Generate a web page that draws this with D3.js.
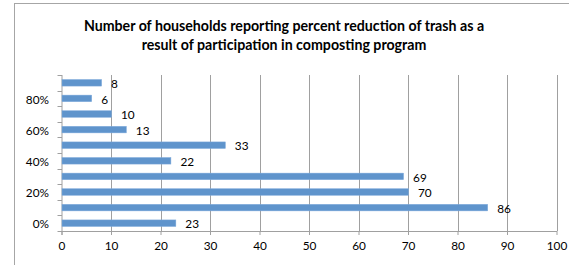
<!DOCTYPE html>
<html><head><meta charset="utf-8">
<script src="https://cdn.jsdelivr.net/npm/d3@7"></script>
<style>
body{margin:0;background:#fff;}
text{font-family:Lato,"Open Sans",sans-serif;fill:#000;}
</style></head>
<body><svg id="c" width="569" height="265"></svg>
<script>
const categories = ["0%","10%","20%","30%","40%","50%","60%","70%","80%","90%"];
const values = [23,86,70,69,22,33,13,10,6,8];
const yTickLabels = ["0%","20%","40%","60%","80%"];
const xTicks = [0,10,20,30,40,50,60,70,80,90,100];
const titleLines = ["Number of households reporting percent reduction of trash as a","result of participation in composting program"];

const svg = d3.select("#c");
const W=569,H=265;
const m={left:61.5,right:12.5,top:75,bottom:34};
const x = d3.scaleLinear().domain([0,100]).range([m.left,W-m.right]);
const y = d3.scaleBand().domain(categories).range([H-m.bottom,m.top]).padding(0);

// outer frame
svg.append("rect").attr("x",14.5).attr("y",3.5).attr("width",W).attr("height",H)
  .attr("fill","none").attr("stroke","#a6a6a6").attr("stroke-width",1);

// title
svg.append("g").selectAll("text").data(titleLines).join("text")
  .attr("x",284).attr("y",(d,i)=>30.5+i*19.5).attr("text-anchor","middle")
  .attr("font-weight","bold").attr("font-size",14.2).text(d=>d);

// gridlines
svg.append("g").selectAll("line").data(xTicks.slice(1)).join("line")
  .attr("x1",d=>Math.round(x(d))+0.5).attr("x2",d=>Math.round(x(d))+0.5)
  .attr("y1",m.top).attr("y2",H-m.bottom)
  .attr("stroke","#a0a0a0").attr("stroke-width",1);

// x axis
const xa = svg.append("g").attr("transform",`translate(0,${H-m.bottom})`)
  .call(d3.axisBottom(x).tickValues(xTicks).tickSize(4).tickPadding(7).tickSizeOuter(0));
xa.select(".domain").attr("stroke","#a0a0a0");
xa.selectAll(".tick line").attr("stroke","#a0a0a0");
xa.selectAll("text").attr("font-size",11.8).attr("font-family","Lato,sans-serif");

// y axis line + ticks at band boundaries
const bounds = categories.map(c=>y(c)+y.bandwidth()).concat([m.top]);
svg.append("line").attr("x1",m.left+0.5).attr("x2",m.left+0.5).attr("y1",m.top).attr("y2",H-m.bottom+4)
  .attr("stroke","#a0a0a0");
svg.append("g").selectAll("line").data(bounds).join("line")
  .attr("x1",m.left-4).attr("x2",m.left+0.5)
  .attr("y1",d=>Math.round(d)+0.5).attr("y2",d=>Math.round(d)+0.5)
  .attr("stroke","#a0a0a0");
svg.append("g").selectAll("text").data(yTickLabels).join("text")
  .attr("x",49).attr("y",d=>y(d)+y.bandwidth()/2+1).attr("dy","0.35em")
  .attr("text-anchor","end").attr("font-size",11.8).text(d=>d);

// bars
const bh = y.bandwidth()*0.42;
const data = categories.map((c,i)=>({c,v:values[i]}));
svg.append("g").selectAll("rect").data(data).join("rect")
  .attr("x",x(0)+0.5).attr("y",d=>y(d.c)+(y.bandwidth()-bh)/2)
  .attr("width",d=>x(d.v)-x(0)).attr("height",bh)
  .attr("fill","#5f94cc").attr("stroke","#7eaadb").attr("stroke-width",0.5);

// value labels
svg.append("g").selectAll("text").data(data).join("text")
  .attr("x",d=>x(d.v)+10).attr("y",d=>y(d.c)+y.bandwidth()/2+1).attr("dy","0.35em")
  .attr("font-size",11.8).text(d=>d.v);
</script></body></html>
